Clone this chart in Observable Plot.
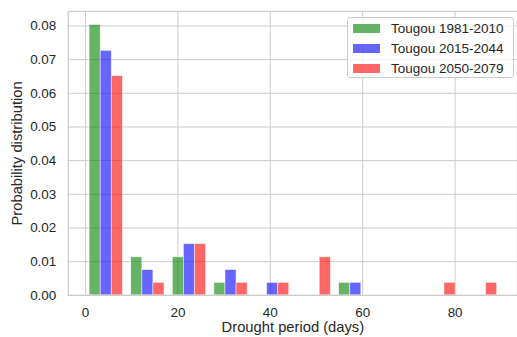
<!DOCTYPE html>
<html><head><meta charset="utf-8">
<script src="https://cdn.jsdelivr.net/npm/d3@7"></script>
<script src="https://cdn.jsdelivr.net/npm/@observablehq/plot@0.6"></script>
<style>
html,body{margin:0;padding:0;background:#fff;overflow:hidden}
#wrap{position:relative;width:517px;height:337px;overflow:hidden;font-family:'Liberation Sans',Arial,sans-serif;color:#262626}
#legend{position:absolute;left:347px;top:17px;width:167px;height:61px;box-sizing:border-box;border:1px solid #cccccc;border-radius:3px;background:rgba(255,255,255,0.8)}
.row{position:absolute;left:0;height:20px;display:flex;align-items:center;font-size:13.5px;white-space:nowrap}
.sw{width:27px;height:9.5px;margin-left:5px;margin-right:11px}
</style></head><body><div id="wrap"></div>
<script>
const binStarts = [0, 9, 18, 27, 36, 45, 54, 63, 72, 81];
const binWidth = 9;
const seriesNames = ["Tougou 1981-2010", "Tougou 2015-2044", "Tougou 2050-2079"];
const seriesColors = ["#008000", "#0000ff", "#ff0000"];
const green = [0.0803, 0.0113, 0.0113, 0.0037, 0, 0, 0.0037, 0, 0, 0];
const blue  = [0.0726, 0.0075, 0.0152, 0.0075, 0.0037, 0, 0.0037, 0, 0, 0];
const red   = [0.0651, 0.0037, 0.0152, 0.0037, 0.0037, 0.0113, 0, 0, 0.0037, 0.0037];
const yTicks = [0, 0.01, 0.02, 0.03, 0.04, 0.05, 0.06, 0.07, 0.08];
const xTicks = [0, 20, 40, 60, 80];
const xLabel = "Drought period (days)";
const yLabel = "Probability distribution";

const seriesValues = [green, blue, red];
const rows = [];
const barW = binWidth * 0.8 / seriesValues.length;
seriesValues.forEach((vals, s) => vals.forEach((v, i) => {
  if (v <= 0) return;
  const g0 = binStarts[i] + binWidth * 0.1;
  rows.push({series: seriesNames[s], x1: g0 + s * barW, x2: g0 + (s + 1) * barW, y: v});
}));

const chart = Plot.plot({
  width: 519, height: 337,
  marginLeft: 68, marginRight: 0, marginTop: 11, marginBottom: 41,
  x: {domain: [-3.73, 93.5]},
  y: {domain: [0, 0.0843]},
  color: {domain: seriesNames, range: seriesColors},
  style: {fontFamily: "'Liberation Sans', Arial, sans-serif", fontSize: "13.5px", color: "#262626", background: "white", overflow: "visible"},
  marks: [
    Plot.gridX(xTicks, {stroke: "#cccccc", strokeOpacity: 1, strokeWidth: 1}),
    Plot.gridY(yTicks, {stroke: "#cccccc", strokeOpacity: 1, strokeWidth: 1}),
    Plot.rectY(rows, {x1: "x1", x2: "x2", y: "y", fill: "series", fillOpacity: 0.6, stroke: "white", strokeWidth: 0.8, strokeOpacity: 0.6}),
    Plot.frame({stroke: "#cccccc", strokeWidth: 1.25}),
    Plot.axisX(xTicks, {tickSize: 0, tickPadding: 12, label: null}),
    Plot.axisY(yTicks, {tickSize: 0, tickPadding: 12, tickFormat: d3.format(".2f"), label: null}),
    Plot.text([xLabel], {frameAnchor: "bottom", textAnchor: "middle", lineAnchor: "top", dy: 26, fontSize: 14.8}),
    Plot.text([yLabel], {frameAnchor: "left", textAnchor: "middle", lineAnchor: "top", rotate: -90, dx: -56.5, fontSize: 14.8})
  ]
});
const wrap = document.getElementById("wrap");
wrap.appendChild(chart);

const legend = document.createElement("div");
legend.id = "legend";
seriesNames.forEach((name, i) => {
  const row = document.createElement("div");
  row.className = "row";
  row.style.top = (i * 20 + 0.5) + "px";
  const sw = document.createElement("span");
  sw.className = "sw";
  sw.style.background = seriesColors[i];
  sw.style.opacity = 0.6;
  const t = document.createElement("span");
  t.textContent = name;
  row.appendChild(sw);
  row.appendChild(t);
  legend.appendChild(row);
});
wrap.appendChild(legend);
</script></body></html>
